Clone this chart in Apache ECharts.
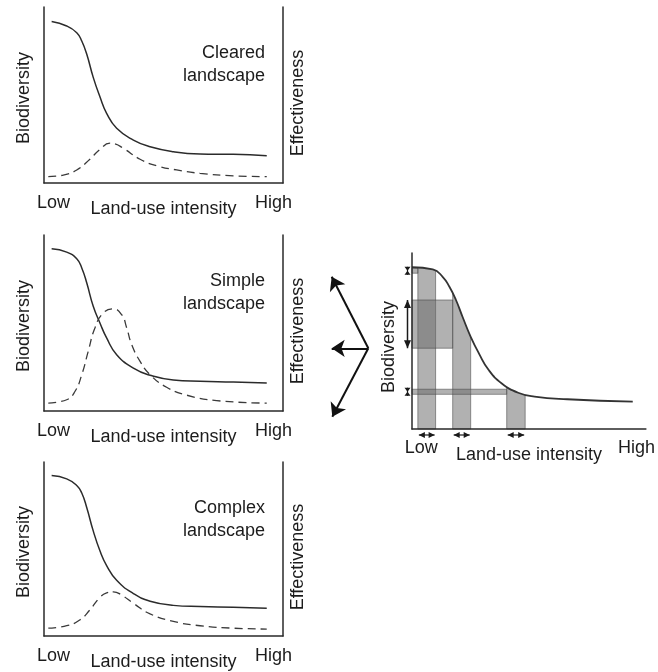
<!DOCTYPE html>
<html><head><meta charset="utf-8">
<script src="https://cdn.jsdelivr.net/npm/echarts@6/dist/echarts.min.js"></script>
<style>html,body{margin:0;padding:0;background:#fff}#c{width:658px;height:672px}</style>
</head><body><div id="c"></div>
<script>
// ---------------- data ----------------
const xTickLabels = ['Low', 'High'];
const xTickPositions = [4, 96];
const panelTitles = ['Cleared\nlandscape', 'Simple\nlandscape', 'Complex\nlandscape'];

const bioX = [3.2, 9.5, 13.7, 15.8, 17.9, 20.6, 23.4, 26.2, 30.4, 37.4, 44.4, 54.1, 65.3, 79.2, 93.2];
const clearedBiodiversity = [91.7, 89.2, 85.4, 80.7, 73.1, 60.0, 49.0, 39.6, 31.1, 24.4, 20.6, 17.8, 16.5, 16.3, 15.5];
const simpleBiodiversity  = [92.2, 90.3, 86.5, 81.3, 72.7, 59.5, 50.0, 41.5, 32.0, 24.4, 20.3, 17.6, 16.9, 16.5, 15.9];
const complexBiodiversity = [92.2, 90.3, 86.5, 82.2, 73.7, 60.4, 49.0, 40.5, 32.0, 24.4, 20.0, 17.6, 16.9, 16.5, 15.9];

const clearedEffX = [1.8, 8.1, 13.7, 19.2, 23.4, 27.6, 29.7, 33.2, 40.2, 47.2, 55.5, 65.3, 79.2, 93.2];
const clearedEffectiveness = [3.6, 4.5, 7.4, 13.5, 19.1, 22.6, 22.2, 19.7, 13.5, 9.8, 7.4, 5.5, 4.1, 3.6];
const simpleEffX = [1.8, 9.5, 13.0, 15.8, 18.5, 21.3, 24.8, 29.0, 32.5, 34.6, 36.7, 40.2, 44.4, 51.3, 59.7, 72.2, 93.2];
const simpleEffectiveness = [4.5, 6.4, 11.2, 20.6, 33.9, 47.2, 55.7, 58.0, 54.7, 47.2, 37.7, 28.2, 20.6, 13.5, 9.0, 5.9, 4.5];
const complexEffX = [1.8, 9.5, 15.1, 19.2, 23.4, 26.2, 29.0, 32.5, 37.4, 44.4, 54.1, 65.3, 79.2, 93.2];
const complexEffectiveness = [4.5, 5.9, 9.3, 15.0, 22.2, 24.8, 25.4, 23.5, 18.8, 12.7, 8.4, 5.9, 4.5, 4.0];

const modelX = [0, 8.9, 13.1, 16.0, 18.8, 21.6, 25.1, 28.6, 32.8, 38.4, 45.4, 52.4, 66.4, 94.4];
const modelBiodiversity = [91.9, 90.7, 86.5, 80.8, 73.3, 63.8, 52.4, 43.0, 33.5, 25.9, 20.6, 18.4, 16.9, 15.5];
// land-use intensity bands (x ranges) and the matching biodiversity bands (y ranges)
const intensityBands = [[2.5, 10.1], [17.4, 25.1], [40.5, 48.4]];
const biodiversityBands = [[88.5, 91.3], [45.9, 73.3], [19.7, 22.6]];

// conceptual arrows (in a small hidden coordinate box)
const arrowOrigin = [48.3, 71.7];
const arrowTips = [[11.7, 143.3], [11.7, 71.7], [12.3, 3.3]];

// ---------------- style ----------------
const FONT = '"Liberation Sans", Arial, Helvetica, sans-serif';
const TXT = '#1c1c1c';
const AX = '#2a2a2a';
const textStyle = { color: TXT, fontSize: 18, fontFamily: FONT };
const SMOOTH = 0.5;

const chart = echarts.init(document.getElementById('c'));

const leftTops = [7, 235, 462];
const bioSets = [clearedBiodiversity, simpleBiodiversity, complexBiodiversity];
const effXSets = [clearedEffX, simpleEffX, complexEffX];
const effSets = [clearedEffectiveness, simpleEffectiveness, complexEffectiveness];
const titleY = [42, 270, 497];

const grids = [], xAxes = [], yAxes = [], series = [], graphics = [];
const axisLineStyle = { show: true, onZero: false, lineStyle: { color: AX, width: 1.5 } };

function xAxisCfg(gi, margin, nameGap) {
  return {
    gridIndex: gi, type: 'value', min: 0, max: 100, z: 6,
    axisLine: axisLineStyle, axisTick: { show: false }, splitLine: { show: false },
    axisLabel: Object.assign({ customValues: xTickPositions, margin: margin,
      formatter: v => (v < 50 ? xTickLabels[0] : xTickLabels[1]) }, textStyle),
    name: 'Land-use intensity', nameLocation: 'middle', nameGap: nameGap,
    nameMoveOverlap: false,
    nameTextStyle: textStyle
  };
}
function yAxisCfg(gi, pos, name, gap, pad) {
  return {
    gridIndex: gi, type: 'value', min: 0, max: 100, position: pos, z: 6,
    axisLine: axisLineStyle, axisTick: { show: false }, splitLine: { show: false },
    axisLabel: { show: false },
    name: name, nameLocation: 'middle', nameRotate: 90, nameGap: gap, nameMoveOverlap: false,
    nameTextStyle: Object.assign({ padding: pad }, textStyle)
  };
}

for (let i = 0; i < 3; i++) {
  grids.push({ left: 44, top: leftTops[i], width: 239, height: 176 });
  xAxes.push(xAxisCfg(i, 11, 17));
  yAxes.push(yAxisCfg(i, 'left', 'Biodiversity', 11, [0, 6, 0, 0]));
  yAxes.push(yAxisCfg(i, 'right', 'Effectiveness', 6, [0, 16, 0, 0]));
  series.push({
    type: 'line', xAxisIndex: i, yAxisIndex: 2 * i, smooth: SMOOTH,
    symbol: 'none', lineStyle: { color: '#2b2b2b', width: 1.5 },
    data: bioX.map((x, k) => [x, bioSets[i][k]])
  });
  series.push({
    type: 'line', xAxisIndex: i, yAxisIndex: 2 * i, smooth: SMOOTH,
    symbol: 'none', lineStyle: { color: '#3a3a3a', width: 1.3, type: [8, 5] },
    data: effXSets[i].map((x, k) => [x, effSets[i][k]])
  });
  graphics.push({
    type: 'text', x: 265, y: titleY[i],
    style: { text: panelTitles[i], align: 'right', verticalAlign: 'top', lineHeight: 23,
      fill: TXT, font: '18px ' + FONT }
  });
}

// right panel (grid 3)
grids.push({ left: 412, top: 253, width: 238, height: 176 });
xAxes.push(xAxisCfg(3, 10, 17));
yAxes.push(yAxisCfg(3, 'left', 'Biodiversity', 14, [0, 12, 0, 0]));

const BAND_FILL = 'rgba(105,105,105,0.52)';
const BAND_EDGE = 'rgba(70,70,70,0.55)';
// vertical bands (ranges of land-use intensity), cut off by the mask above the curve
series.push({
  type: 'custom', xAxisIndex: 3, yAxisIndex: 6, z: 2, silent: true,
  data: intensityBands,
  renderItem: function (params, api) {
    const p0 = api.coord([api.value(0), 0]);
    const p1 = api.coord([api.value(1), 97]);
    return { type: 'rect', shape: { x: p0[0], y: p1[1], width: p1[0] - p0[0], height: p0[1] - p1[1] },
      style: { fill: BAND_FILL, stroke: BAND_EDGE, lineWidth: 1 } };
  }
});
// horizontal bands (ranges of biodiversity), reaching across to their intensity band
series.push({
  type: 'custom', xAxisIndex: 3, yAxisIndex: 6, z: 2, silent: true,
  data: biodiversityBands.map((b, k) => [b[0], b[1], intensityBands[k][0]]),
  renderItem: function (params, api) {
    const p0 = api.coord([0, api.value(0)]);
    const p1 = api.coord([api.value(2), api.value(1)]);
    return { type: 'rect', shape: { x: p0[0], y: p1[1], width: p1[0] - p0[0], height: p0[1] - p1[1] },
      style: { fill: BAND_FILL, stroke: BAND_EDGE, lineWidth: 1 } };
  }
});
// white mask above the curve
series.push({
  type: 'line', xAxisIndex: 3, yAxisIndex: 6, z: 3, smooth: SMOOTH, silent: true,
  symbol: 'none', lineStyle: { width: 0, opacity: 0 },
  areaStyle: { color: '#ffffff', opacity: 1, origin: 'end' },
  data: modelX.map((x, k) => [x, modelBiodiversity[k]])
});
// curve
series.push({
  type: 'line', xAxisIndex: 3, yAxisIndex: 6, z: 4, smooth: SMOOTH,
  symbol: 'none', lineStyle: { color: '#333333', width: 1.8 },
  data: modelX.map((x, k) => [x, modelBiodiversity[k]])
});

function head(tx, ty, dx, dy, len, half) {
  const bx = tx - dx * len, by = ty - dy * len;
  return [[tx, ty], [bx - dy * half, by + dx * half], [bx + dy * half, by - dx * half]];
}
const MK = '#1a1a1a';
// horizontal double arrows under the intensity bands
series.push({
  type: 'custom', xAxisIndex: 3, yAxisIndex: 6, z: 6, clip: false, silent: true,
  data: intensityBands,
  renderItem: function (params, api) {
    const a = api.coord([api.value(0), 0]), b = api.coord([api.value(1), 0]);
    const y = a[1] + 6, x0 = a[0] + 1, x1 = b[0] - 1;
    return { type: 'group', children: [
      { type: 'line', shape: { x1: x0, y1: y, x2: x1, y2: y }, style: { stroke: MK, lineWidth: 1.2 } },
      { type: 'polygon', shape: { points: head(x0, y, -1, 0, 6, 3) }, style: { fill: MK } },
      { type: 'polygon', shape: { points: head(x1, y, 1, 0, 6, 3) }, style: { fill: MK } }
    ] };
  }
});
// vertical double arrows beside the biodiversity bands
series.push({
  type: 'custom', xAxisIndex: 3, yAxisIndex: 6, z: 6, clip: false, silent: true,
  data: biodiversityBands,
  renderItem: function (params, api) {
    const lo = api.coord([0, api.value(0)]), hi = api.coord([0, api.value(1)]);
    const x = lo[0] - 4.5, yT = hi[1], yB = lo[1];
    if (yB - yT < 12) {
      const m = (yT + yB) / 2;
      return { type: 'group', children: [
        { type: 'polygon', shape: { points: [[x - 3, yT - 1.5], [x + 3, yT - 1.5], [x, m]] }, style: { fill: MK } },
        { type: 'polygon', shape: { points: [[x - 3, yB + 1.5], [x + 3, yB + 1.5], [x, m]] }, style: { fill: MK } },
        { type: 'line', shape: { x1: x, y1: yT - 1.5, x2: x, y2: yB + 1.5 }, style: { stroke: MK, lineWidth: 1.2 } }
      ] };
    }
    return { type: 'group', children: [
      { type: 'line', shape: { x1: x, y1: yT, x2: x, y2: yB }, style: { stroke: MK, lineWidth: 1.5 } },
      { type: 'polygon', shape: { points: head(x, yT, 0, -1, 8, 3.5) }, style: { fill: MK } },
      { type: 'polygon', shape: { points: head(x, yB, 0, 1, 8, 3.5) }, style: { fill: MK } }
    ] };
  }
});

// hidden box for the three conceptual arrows (grid 4)
grids.push({ left: 320, top: 270, width: 60, height: 150 });
xAxes.push({ gridIndex: 4, type: 'value', min: 0, max: 60, show: false });
yAxes.push({ gridIndex: 4, type: 'value', min: 0, max: 150, show: false });
series.push({
  type: 'lines', coordinateSystem: 'cartesian2d', xAxisIndex: 4, yAxisIndex: 7, z: 5,
  symbol: ['none', 'arrow'], symbolSize: 13, silent: true,
  lineStyle: { color: '#111111', width: 2, opacity: 1 },
  data: arrowTips.map(t => ({ coords: [arrowOrigin, t] }))
});

chart.setOption({
  backgroundColor: '#ffffff',
  animation: false,
  grid: grids, xAxis: xAxes, yAxis: yAxes, series: series, graphic: graphics
});
</script></body></html>
